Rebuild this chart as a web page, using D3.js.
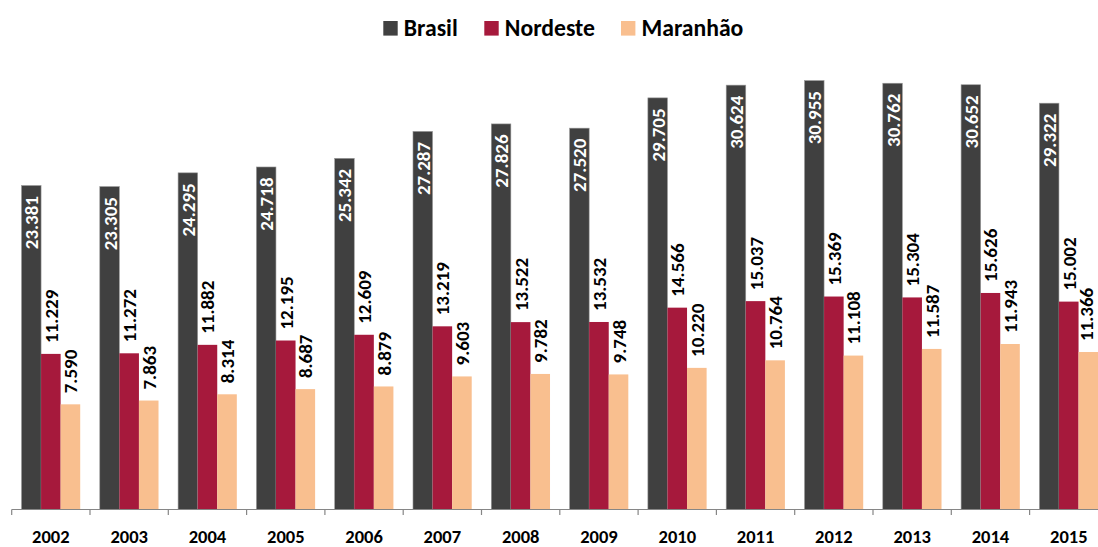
<!DOCTYPE html>
<html><head><meta charset="utf-8">
<script src="https://cdn.jsdelivr.net/npm/d3@7"></script>
<style>body{margin:0;background:#fff}svg{display:block}text{font-family:Carlito,Calibri,Lato,sans-serif;font-weight:bold}</style>
</head><body>
<svg id="c" width="1098" height="547"></svg>
<script>
const years = ["2002","2003","2004","2005","2006","2007","2008","2009","2010","2011","2012","2013","2014","2015"];
const seriesNames = ["Brasil","Nordeste","Maranhão"];
const brasil = [23.381,23.305,24.295,24.718,25.342,27.287,27.826,27.520,29.705,30.624,30.955,30.762,30.652,29.322];
const nordeste = [11.229,11.272,11.882,12.195,12.609,13.219,13.522,13.532,14.566,15.037,15.369,15.304,15.626,15.002];
const maranhao = [7.590,7.863,8.314,8.687,8.879,9.603,9.782,9.748,10.220,10.764,11.108,11.587,11.943,11.366];
const colors = ["#404040","#A6193C","#F9BF8F"];

const seriesValues = [brasil, nordeste, maranhao];
const W = 1098;
const svg = d3.select("#c");
const x0 = d3.scaleBand().domain(years).range([11.7, 11.7 + 14*78.3]).padding(0);
const x1 = d3.scaleBand().domain(seriesNames).range([0, x0.bandwidth()]).paddingInner(0).paddingOuter(0.5);
const y = d3.scaleLinear().domain([0, 35]).range([509.5, 24.5]);
const fmt = v => v.toFixed(3);

const groups = svg.append("g").selectAll("g").data(years).join("g")
  .attr("transform", d => `translate(${x0(d)},0)`);

seriesNames.forEach((s, si) => {
  groups.append("rect")
    .attr("x", x1(s))
    .attr("width", x1.bandwidth())
    .attr("y", (d, i) => y(seriesValues[si][i]))
    .attr("height", (d, i) => y(0) - y(seriesValues[si][i]))
    .attr("fill", colors[si])
    .attr("stroke", si === 0 ? "#9a9a9a" : "none")
    .attr("stroke-width", 0.6);
});

seriesNames.forEach((s, si) => {
  groups.append("text")
    .attr("transform", (d, i) => {
      let cx = x1(s) + x1.bandwidth()/2 + 0.5;
      // keep the label inside the page
      const maxC = W - 11.5 - x0(d);
      if (cx > maxC) cx = maxC;
      const v = seriesValues[si][i];
      const yy = si === 0 ? y(v) + 10.5 : y(v) - 11;
      return `translate(${cx},${yy}) rotate(-90)`;
    })
    .attr("text-anchor", si === 0 ? "end" : "start")
    .attr("dominant-baseline", "central")
    .attr("font-size", 19)
    .attr("fill", si === 0 ? "#ffffff" : "#000000")
    .text((d, i) => fmt(seriesValues[si][i]));
});

// axis
const axis = d3.axisBottom(x0).tickSize(0).tickPadding(0);
const ag = svg.append("g").attr("transform", `translate(0,${y(0)})`).call(axis);
ag.select(".domain").attr("stroke", "#868686").attr("stroke-width", 1.2)
  .attr("d", `M${x0.range()[0]},0H${x0.range()[1]}`);
ag.selectAll(".tick text").attr("font-size", 18.5).attr("fill", "#000")
  .attr("font-family", "Carlito,Calibri,Lato,sans-serif").attr("font-weight", "bold")
  .attr("y", 33.5).attr("dy", null);
const bounds = years.map(d => x0(d)).concat([x0.range()[1]]);
ag.selectAll("line.bound").data(bounds).join("line").attr("class","bound")
  .attr("x1", d => d).attr("x2", d => d).attr("y1", 0).attr("y2", 5.5)
  .attr("stroke", "#868686").attr("stroke-width", 1.2);

// legend
const legX = [383.3, 484.3, 621];
const lg = svg.append("g");
seriesNames.forEach((s, si) => {
  lg.append("rect").attr("x", legX[si]).attr("y", 21).attr("width", 14.4).attr("height", 14.6).attr("fill", colors[si]);
  lg.append("text").attr("x", legX[si] + 20.5).attr("y", 35.5).attr("font-size", 23.7).attr("fill", "#000").text(s);
});
</script>
</body></html>
